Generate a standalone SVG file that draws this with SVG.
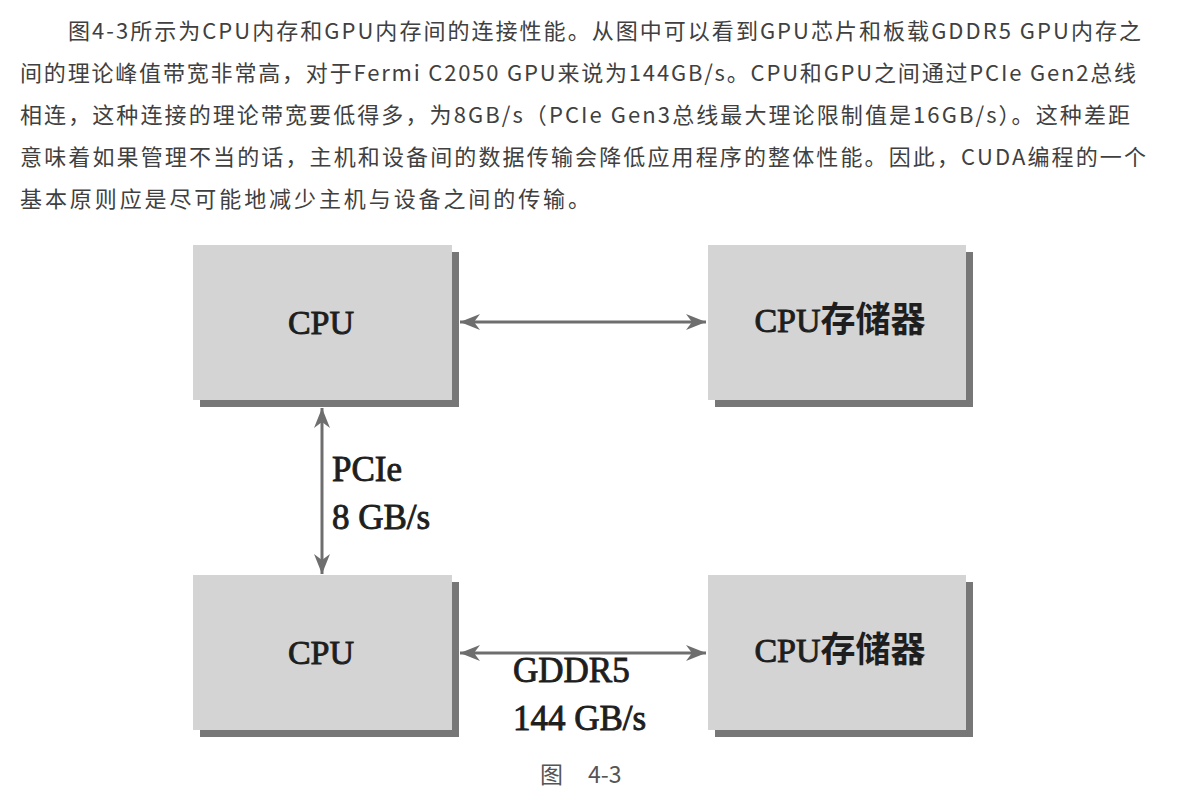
<svg xmlns="http://www.w3.org/2000/svg" width="1177" height="808" viewBox="0 0 1177 808">
<style>
.para{font-family:"Noto Sans CJK SC","Noto Sans",sans-serif;font-size:22px;fill:#404040}
.box{fill:#d4d4d4}
.shadow{fill:#777777}
.lbl{font-family:"Liberation Serif","Noto Sans CJK SC",serif;font-size:35px;fill:#1e1e1e;stroke:#1e1e1e;stroke-width:0.9}
.big{font-size:34px}
.cjk{font-family:"Noto Sans CJK SC",sans-serif;font-weight:bold;font-size:35px;stroke-width:0}
.conn{stroke:#6e6e6e;stroke-width:3;fill:none}
.cap{font-family:"Noto Sans CJK SC","Noto Sans",sans-serif;font-size:23px;fill:#555555}
</style>
<defs>
<marker id="arr" viewBox="0 0 20 16" refX="20" refY="8" markerWidth="20" markerHeight="16" markerUnits="userSpaceOnUse" orient="auto-start-reverse">
<path d="M0,0 L20,8 L0,16 L6,8 z" fill="#6e6e6e"/>
</marker>
</defs>
<rect width="1177" height="808" fill="#ffffff"/>
<g id="paragraph">
<text class="para" x="68" y="39" textLength="1073" lengthAdjust="spacing">图4-3所示为CPU内存和GPU内存间的连接性能。从图中可以看到GPU芯片和板载GDDR5 GPU内存之</text>
<text class="para" x="20" y="81" textLength="1116" lengthAdjust="spacing">间的理论峰值带宽非常高，对于Fermi C2050 GPU来说为144GB/s。CPU和GPU之间通过PCIe Gen2总线</text>
<text class="para" x="20" y="123" textLength="1110" lengthAdjust="spacing">相连，这种连接的理论带宽要低得多，为8GB/s（PCIe Gen3总线最大理论限制值是16GB/s）。这种差距</text>
<text class="para" x="20" y="165" textLength="1126" lengthAdjust="spacing">意味着如果管理不当的话，主机和设备间的数据传输会降低应用程序的整体性能。因此，CUDA编程的一个</text>
<text class="para" x="20" y="207" textLength="570" lengthAdjust="spacing">基本原则应是尽可能地减少主机与设备之间的传输。</text>
</g>
<g id="connectors">
<line class="conn" x1="460" y1="322" x2="706" y2="322" marker-start="url(#arr)" marker-end="url(#arr)"/>
<line class="conn" x1="322" y1="408" x2="322" y2="574" marker-start="url(#arr)" marker-end="url(#arr)"/>
<line class="conn" x1="460" y1="653" x2="706" y2="653" marker-start="url(#arr)" marker-end="url(#arr)"/>
<text class="lbl" x="332" y="481">PCIe</text>
<text class="lbl" x="332" y="529">8 GB/s</text>
<text class="lbl" x="513" y="682">GDDR5</text>
<text class="lbl" x="513" y="730">144 GB/s</text>
</g>
<g id="node-cpu-top">
<rect class="shadow" x="200" y="252" width="259" height="155"/>
<rect class="box" x="193" y="245" width="259" height="155"/>
<text class="lbl big" x="321" y="334" text-anchor="middle">CPU</text>
</g>
<g id="node-mem-top">
<rect class="shadow" x="715" y="252" width="258" height="155"/>
<rect class="box" x="708" y="245" width="258" height="155"/>
<text class="lbl big" x="840" y="332" text-anchor="middle">CPU<tspan class="cjk">存储器</tspan></text>
</g>
<g id="node-cpu-bottom">
<rect class="shadow" x="200" y="582" width="259" height="155"/>
<rect class="box" x="193" y="575" width="259" height="155"/>
<text class="lbl big" x="321" y="664" text-anchor="middle">CPU</text>
</g>
<g id="node-mem-bottom">
<rect class="shadow" x="715" y="582" width="258" height="155"/>
<rect class="box" x="708" y="575" width="258" height="155"/>
<text class="lbl big" x="840" y="662" text-anchor="middle">CPU<tspan class="cjk">存储器</tspan></text>
</g>
<g id="caption">
<text class="cap" x="540" y="783">图</text>
<text class="cap" x="588" y="783">4-3</text>
</g>
</svg>
